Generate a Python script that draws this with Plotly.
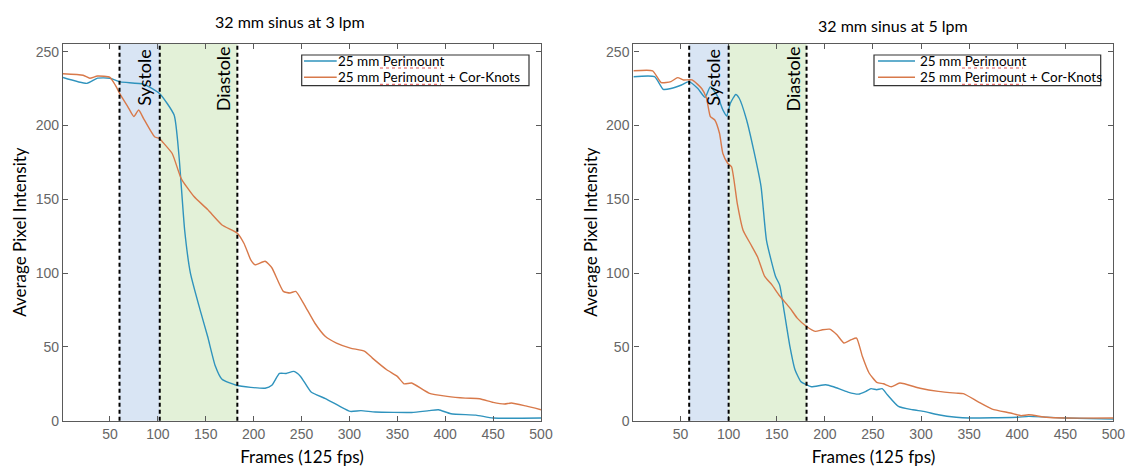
import plotly.graph_objects as go

# ---------------- data ----------------
# Left panel: 32 mm sinus at 3 lpm
x_peri_3 = [1, 26, 37, 50, 61, 85, 102, 117, 122, 128, 134, 145, 152, 160, 167, 182, 197, 212, 219, 227,
            234, 242, 249, 260, 275, 290, 301, 312, 327, 365, 383, 393, 406, 432, 450, 500]
y_peri_3 = [232.5, 228.5, 232, 232, 229.5, 228, 221.5, 207, 180, 129, 100, 73, 57, 37, 28, 24, 22.6, 22, 24, 32,
            32, 33.4, 30, 19.4, 15, 9.7, 6.3, 6.8, 5.9, 5.6, 6.8, 7.4, 4.7, 3.8, 1.8, 1.8]
x_knots_3 = [1, 22, 29, 37, 50, 55.5, 61, 68.6, 75, 80, 85, 96.5, 102, 104.7, 115, 124.4, 137.5, 152, 167, 183,
             190, 197, 201.6, 212, 219, 231, 238, 244, 253, 264, 275, 286.5, 301, 316, 324, 339, 350, 357, 365,
             383, 402, 421, 436, 450, 462, 469, 484, 500]
y_knots_3 = [235, 234, 232, 233.5, 232.6, 227.4, 220.7, 212.8, 206, 210.5, 204.8, 192.4, 191, 189, 181, 164, 152,
             143, 132.6, 127, 120, 109, 105.6, 108, 103.6, 87.6, 86.5, 87.6, 78.5, 66, 57, 52.6, 49.2, 47, 42.4,
             34.5, 30, 25, 25.5, 18.7, 16.5, 15.3, 14.9, 12.4, 11.3, 12, 10, 7.4]

# Right panel: 32 mm sinus at 5 lpm
x_peri_5 = [1, 23, 32, 40, 51, 58.6, 68, 75.5, 81, 88.7, 94, 98, 101.8, 107.4, 111, 118.7, 126, 133.7, 139.4,
            148.8, 153, 158, 163.8, 169, 175, 180.7, 186, 201, 209, 224, 235, 242.7, 248, 254, 259.6, 265,
            276.5, 291.5, 303, 318, 336.6, 350, 400, 412, 449, 500]
y_peri_5 = [233, 233, 224.5, 225, 227.4, 229.7, 225, 219, 226.3, 219.5, 210.5, 206.4, 215, 221, 218.4, 203.7,
            183.4, 158.6, 122, 97.7, 92, 73, 50, 34.5, 26.6, 24.4, 23, 24.4, 23, 19.4, 18, 19.9, 21.7, 21,
            21.7, 17.6, 9.7, 7.4, 6.3, 4, 2.3, 1.8, 2.3, 2.9, 1.8, 1.1]
x_knots_5 = [1, 21, 30, 40, 47, 53, 62, 72, 77, 81, 85.6, 90.5, 94, 99, 103, 109, 115, 122.5, 130, 137.5, 145,
             152.5, 163.8, 171.3, 180.7, 190, 197.6, 205, 212.6, 220, 227.6, 233, 239, 246, 254, 261, 269, 278,
             299, 318, 336.6, 344, 359, 374, 393, 404, 412, 430.5, 449, 500]
y_knots_5 = [237, 237, 229, 229.7, 232.4, 230.8, 230.8, 225, 218.4, 206, 203.7, 194.7, 181, 174.4, 172, 147,
             129, 120, 111, 97.7, 92, 85, 76.3, 69.5, 64, 60.5, 61.6, 62, 58.2, 52.6, 54.9, 56, 43.6, 32.3,
             26, 25, 23, 25.5, 22, 19.9, 18.7, 18.3, 13, 7.9, 5.2, 3.4, 4, 2.3, 1.8, 1.8]

# phase boundaries [systole start, systole end / diastole start, diastole end]
phases_3 = [60, 102, 183]
phases_5 = [59, 100, 181]

x_ticks = [50, 100, 150, 200, 250, 300, 350, 400, 450, 500]
y_ticks = [0, 50, 100, 150, 200, 250]

titles = ["32 mm sinus at 3 lpm", "32 mm sinus at 5 lpm"]
series_names = ["25 mm Perimount", "25 mm Perimount + Cor-Knots"]
x_title = "Frames (125 fps)"
y_title = "Average Pixel Intensity"

# ---------------- style ----------------
W, H = 1125, 470
BLUE = "#2f93bd"
ORANGE = "#d8794a"
SYS_FILL = "#d9e5f4"
DIA_FILL = "#e3f1d8"
AX = "#5a5a5a"
TXT_FONT = "Lato"
TICK_FONT = dict(family="Liberation Sans, Arial", size=14, color="#666666")
colors = [BLUE, ORANGE]


def px(x):
    return x / W


def py(y):
    return 1 - y / H


ydom = [py(420.7), py(43.5)]
xdom_l = [px(63), px(541)]
xdom_r = [px(633.4), px(1113.4)]

fig = go.Figure()

panels = [
    ("x", "y", x_peri_3, y_peri_3, x_knots_3, y_knots_3),
    ("x2", "y2", x_peri_5, y_peri_5, x_knots_5, y_knots_5),
]
for xa, ya, xp, yp, xk, yk in panels:
    fig.add_trace(go.Scatter(x=xp, y=yp, mode="lines", name=series_names[0], xaxis=xa, yaxis=ya,
                             line=dict(color=BLUE, width=1.4, shape="spline", smoothing=0.5), showlegend=False))
    fig.add_trace(go.Scatter(x=xk, y=yk, mode="lines", name=series_names[1], xaxis=xa, yaxis=ya,
                             line=dict(color=ORANGE, width=1.4, shape="spline", smoothing=0.5), showlegend=False))

shapes = []
annotations = []
for (xa, ya), ph in zip([("x", "y"), ("x2", "y2")], [phases_3, phases_5]):
    shapes.append(dict(type="rect", xref=xa, yref=ya + " domain", x0=ph[0], x1=ph[1], y0=0, y1=1,
                       fillcolor=SYS_FILL, line=dict(width=0), layer="below"))
    shapes.append(dict(type="rect", xref=xa, yref=ya + " domain", x0=ph[1], x1=ph[2], y0=0, y1=1,
                       fillcolor=DIA_FILL, line=dict(width=0), layer="below"))
    for v in ph:
        shapes.append(dict(type="line", xref=xa, yref=ya + " domain", x0=v, x1=v, y0=0, y1=1,
                           line=dict(color="black", width=2, dash="4px,3px"), layer="above"))
    annotations.append(dict(text="Systole", xref=xa, yref=ya + " domain", x=ph[1], y=1, xanchor="right",
                            yanchor="top", xshift=-3, yshift=-3, textangle=-90, showarrow=False,
                            font=dict(family=TXT_FONT, size=18, color="black")))
    annotations.append(dict(text="Diastole", xref=xa, yref=ya + " domain", x=ph[2], y=1, xanchor="right",
                            yanchor="top", xshift=-1, yshift=-1, textangle=-90, showarrow=False,
                            font=dict(family=TXT_FONT, size=18, color="black")))

# titles
annotations.append(dict(text=titles[0], xref="paper", yref="paper", x=px(290), y=py(21.5),
                        xanchor="center", yanchor="middle", showarrow=False,
                        font=dict(family=TXT_FONT, size=16, color="black")))
annotations.append(dict(text=titles[1], xref="paper", yref="paper", x=px(893), y=py(25.5),
                        xanchor="center", yanchor="middle", showarrow=False,
                        font=dict(family=TXT_FONT, size=16, color="black")))

# legends (box, sample lines, labels, spell-check underline)
legend_boxes = [(301.7, 529.0, 304.0, 336.7, 336.0), (874.0, 1100.7, 878.0, 915.0, 918.0)]
row_y = [61.0, 77.3]
for bx0, bx1, lx0, lx1, tx in legend_boxes:
    shapes.append(dict(type="rect", xref="paper", yref="paper", x0=px(bx0), x1=px(bx1), y0=py(55), y1=py(85.7),
                       fillcolor="white", line=dict(color="#333333", width=1.2), layer="above"))
    for i, ry in enumerate(row_y):
        shapes.append(dict(type="line", xref="paper", yref="paper", x0=px(lx0), x1=px(lx1), y0=py(ry), y1=py(ry),
                           line=dict(color=colors[i], width=1.4), layer="above"))
        annotations.append(dict(text=series_names[i], xref="paper", yref="paper", x=px(tx), y=py(ry),
                                xanchor="left", yanchor="middle", showarrow=False,
                                font=dict(family=TXT_FONT, size=13.5, color="black")))
        shapes.append(dict(type="line", xref="paper", yref="paper", x0=px(tx + 44), x1=px(tx + 105),
                           y0=py(ry + 7), y1=py(ry + 7),
                           line=dict(color="#e05050", width=1, dash="dot"), layer="above"))

axis_common = dict(showline=True, linecolor=AX, linewidth=1.3, mirror="allticks", ticks="inside",
                   ticklen=5, tickcolor=AX, showgrid=False, zeroline=False, tickfont=TICK_FONT,
                   automargin=False, ticklabeloverflow="allow")
xt = dict(text=x_title, font=dict(family=TXT_FONT, size=17, color="black"), standoff=10)
yt = dict(text=y_title, font=dict(family=TXT_FONT, size=17, color="black"), standoff=4)

fig.update_layout(
    width=W, height=H, margin=dict(l=0, r=0, t=0, b=0, autoexpand=False),
    plot_bgcolor="white", paper_bgcolor="white",
    shapes=shapes, annotations=annotations, showlegend=False,
    xaxis=dict(domain=xdom_l, range=[1, 500], tickvals=x_ticks, anchor="y", title=xt, **axis_common),
    yaxis=dict(domain=ydom, range=[0, 255.5], tickvals=y_ticks, anchor="x", title=yt, **axis_common),
    xaxis2=dict(domain=xdom_r, range=[1, 500], tickvals=x_ticks, anchor="y2", title=xt, **axis_common),
    yaxis2=dict(domain=ydom, range=[0, 255.5], tickvals=y_ticks, anchor="x2", title=yt, **axis_common),
)

fig.write_html("out.html", config={"displayModeBar": False},
               post_script="document.body.style.margin='0';document.body.style.overflow='hidden';")
